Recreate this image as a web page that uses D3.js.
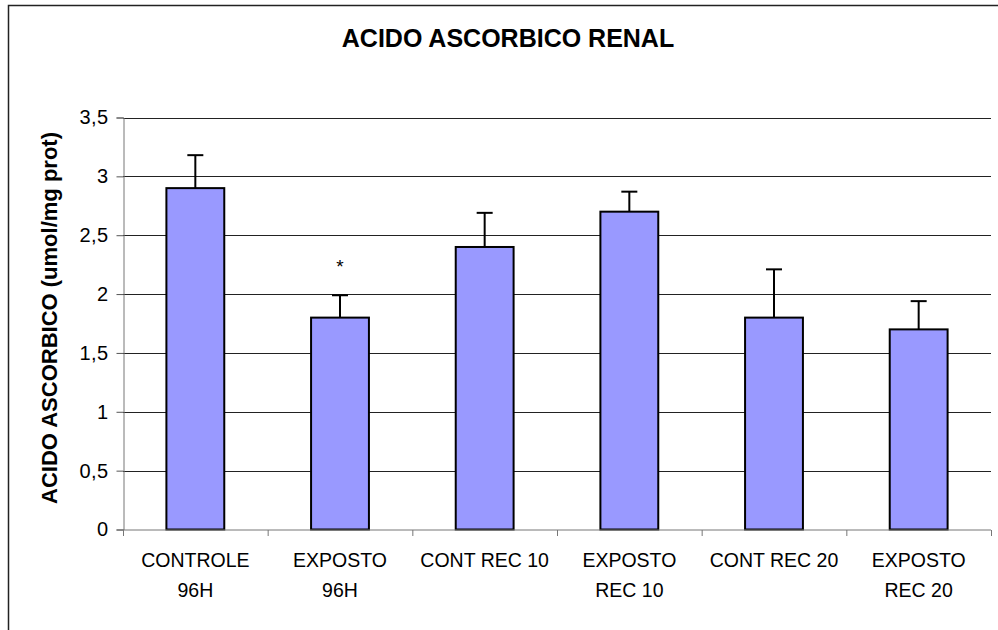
<!DOCTYPE html>
<html>
<head>
<meta charset="utf-8">
<script src="https://cdn.jsdelivr.net/npm/d3@7"></script>
<style>
  body { margin: 0; background: #fff; }
  svg text { font-family: "Liberation Sans", Arial, sans-serif; fill: #000; }
</style>
</head>
<body>
<div id="chart"></div>
<script>
// Data
const categories = [
  ["CONTROLE", "96H"],
  ["EXPOSTO", "96H"],
  ["CONT REC 10"],
  ["EXPOSTO", "REC 10"],
  ["CONT REC 20"],
  ["EXPOSTO", "REC 20"]
];
const means = [2.9, 1.8, 2.4, 2.7, 1.8, 1.7];
const errors = [0.28, 0.19, 0.29, 0.17, 0.41, 0.24];
const marks = ["", "*", "", "", "", ""];
const yTicks = [0, 0.5, 1, 1.5, 2, 2.5, 3, 3.5];

const width = 998;
const height = 630;
const margin = { top: 117.5, right: 7, bottom: 100.5, left: 123 };

const svg = d3.create("svg").attr("width", width).attr("height", height);

// outer frame (runs off the right and bottom edges)
svg.append("rect")
  .attr("x", 8.5).attr("y", 5.5)
  .attr("width", 1000).attr("height", 700)
  .attr("fill", "none")
  .attr("stroke", "#222")
  .attr("stroke-width", 1.5);

const x = d3.scaleBand()
  .domain(d3.range(categories.length))
  .range([margin.left, width - margin.right]);

const y = d3.scaleLinear()
  .domain([0, 3.5])
  .range([height - margin.bottom, margin.top]);

// gridlines
svg.append("g")
  .selectAll("line")
  .data(yTicks.filter((d) => d > 0))
  .join("line")
  .attr("x1", margin.left)
  .attr("x2", width - margin.right)
  .attr("y1", (d) => Math.round(y(d)) + 0.5)
  .attr("y2", (d) => Math.round(y(d)) + 0.5)
  .attr("stroke", "#222")
  .attr("stroke-width", 1);

// y axis
const yAxis = svg.append("g")
  .attr("transform", `translate(${margin.left + 0.5},0)`)
  .call(d3.axisLeft(y).tickValues(yTicks).tickSize(7).tickPadding(8)
    .tickFormat((d) => String(d).replace(".", ",")));
yAxis.select(".domain").attr("stroke", "#777");
yAxis.selectAll(".tick line").attr("stroke", "#555");
yAxis.selectAll(".tick text")
  .attr("font-size", 20)
  .attr("letter-spacing", 0.4)
  .attr("font-family", "Liberation Sans, Arial, sans-serif");

// bars
const barW = x.bandwidth() * 0.4;
const bars = svg.append("g");
bars.selectAll("rect")
  .data(means)
  .join("rect")
  .attr("x", (d, i) => x(i) + x.bandwidth() / 2 - barW / 2)
  .attr("y", (d) => y(d))
  .attr("width", barW)
  .attr("height", (d) => y(0) - y(d))
  .attr("fill", "#9999ff")
  .attr("stroke", "#000")
  .attr("stroke-width", 2);

// error bars (upper only)
const err = svg.append("g").attr("stroke", "#000").attr("stroke-width", 2);
means.forEach((m, i) => {
  const cx = x(i) + x.bandwidth() / 2;
  err.append("line")
    .attr("x1", cx).attr("x2", cx)
    .attr("y1", y(m)).attr("y2", y(m + errors[i]));
  err.append("line")
    .attr("x1", cx - 8).attr("x2", cx + 8)
    .attr("y1", y(m + errors[i])).attr("y2", y(m + errors[i]));
});

// significance marks
svg.append("g")
  .selectAll("text")
  .data(marks)
  .join("text")
  .attr("x", (d, i) => x(i) + x.bandwidth() / 2)
  .attr("y", (d, i) => y(means[i] + errors[i]) - 22)
  .attr("text-anchor", "middle")
  .attr("font-size", 19)
  .text((d) => d);

// x axis
const xAxis = svg.append("g")
  .attr("transform", `translate(0,${y(0) + 0.5})`);
xAxis.append("line")
  .attr("x1", margin.left).attr("x2", width - margin.right)
  .attr("stroke", "#777");
xAxis.selectAll(".tk")
  .data(d3.range(categories.length + 1))
  .join("line")
  .attr("class", "tk")
  .attr("x1", (d) => (d < categories.length ? x(d) : x.range()[1]) + 0.5)
  .attr("x2", (d) => (d < categories.length ? x(d) : x.range()[1]) + 0.5)
  .attr("y1", 0).attr("y2", 6)
  .attr("stroke", "#777");

const labels = svg.append("g")
  .selectAll("text")
  .data(categories)
  .join("text")
  .attr("text-anchor", "middle")
  .attr("font-size", 19.5)
  .attr("transform", (d, i) => `translate(${x(i) + x.bandwidth() / 2},${y(0) + 37})`);
labels.selectAll("tspan")
  .data((d) => d)
  .join("tspan")
  .attr("x", 0)
  .attr("y", (d, i) => i * 30.6)
  .text((d) => d);

// title
svg.append("text")
  .attr("x", 508).attr("y", 47)
  .attr("text-anchor", "middle")
  .attr("font-size", 25)
  .attr("font-weight", "bold")
  .text("ACIDO ASCORBICO RENAL");

// y axis title
svg.append("text")
  .attr("transform", "translate(57,318) rotate(-90)")
  .attr("text-anchor", "middle")
  .attr("font-size", 22)
  .attr("font-weight", "bold")
  .text("ACIDO ASCORBICO (umol/mg prot)");

document.getElementById("chart").appendChild(svg.node());
</script>
</body>
</html>
